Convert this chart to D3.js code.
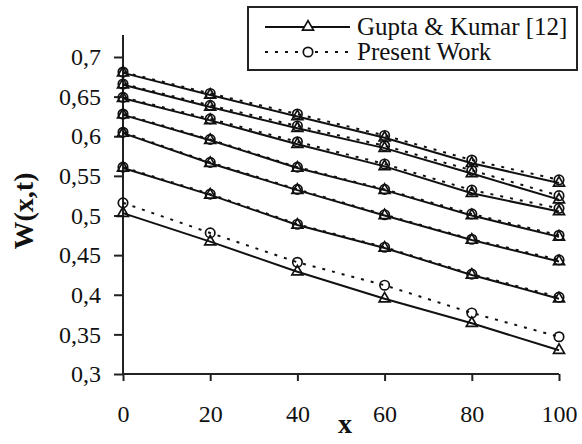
<!DOCTYPE html>
<html>
<meta charset="utf-8">
<style>
  body { margin: 0; background: #fff; }
  text { font-family: "Liberation Serif", "DejaVu Serif", serif; fill: #111; }
</style>
<script src="https://d3js.org/d3.v7.min.js"></script>
<body>
<div id="chart"></div>
<script>

// x positions along the bar
var xValues = [0, 20, 40, 60, 80, 100];

// Gupta & Kumar [12] (solid, triangles), one row per curve
var gupta = [
  [0.680, 0.652, 0.625, 0.598, 0.566, 0.541],
  [0.665, 0.637, 0.610, 0.585, 0.553, 0.520],
  [0.648, 0.620, 0.590, 0.562, 0.528, 0.505],
  [0.627, 0.595, 0.560, 0.532, 0.500, 0.473],
  [0.604, 0.566, 0.532, 0.500, 0.469, 0.442],
  [0.560, 0.526, 0.488, 0.459, 0.425, 0.395],
  [0.503, 0.467, 0.429, 0.395, 0.364, 0.330]
];

// Present Work (dotted, circles)
var present = [
  [0.681, 0.654, 0.628, 0.601, 0.570, 0.545],
  [0.666, 0.639, 0.613, 0.588, 0.557, 0.525],
  [0.649, 0.622, 0.593, 0.565, 0.532, 0.509],
  [0.628, 0.596, 0.561, 0.533, 0.502, 0.475],
  [0.605, 0.567, 0.533, 0.501, 0.470, 0.444],
  [0.561, 0.527, 0.489, 0.460, 0.426, 0.397],
  [0.516, 0.478, 0.441, 0.412, 0.377, 0.347]
];

var xTicks = [0, 20, 40, 60, 80, 100];
var yTicks = [0.3, 0.35, 0.4, 0.45, 0.5, 0.55, 0.6, 0.65, 0.7];
var legendLabels = ["Gupta & Kumar [12]", "Present Work"];

var W = 582, H = 444;

var svg = d3.select("#chart").append("svg")
    .attr("width", W)
    .attr("height", H);

var x = d3.scaleLinear().domain([0, 100]).range([123, 559]);
var y = d3.scaleLinear().domain([0.3, 0.7]).range([374, 57]);

var fmt = function(d) { return String(+d.toFixed(2)).replace(".", ","); };

// axes
var xAxis = svg.append("g")
    .attr("transform", "translate(0," + y(0.3) + ")")
    .call(d3.axisBottom(x).tickValues(xTicks).tickSize(7).tickSizeOuter(0).tickPadding(24).tickFormat(function(d) { return d; }));

var yAxis = svg.append("g")
    .attr("transform", "translate(" + x(0) + ",0)")
    .call(d3.axisLeft(y).tickValues(yTicks).tickSize(9).tickSizeOuter(0).tickPadding(13).tickFormat(fmt));

// y axis line runs a bit above the top tick
yAxis.select(".domain").attr("d", "M0," + y(0.3) + "V35");
xAxis.select(".domain").attr("d", "M" + x(0) + ",0H" + x(100));

svg.selectAll(".domain, .tick line")
    .attr("stroke", "#222")
    .attr("stroke-width", 2);
svg.selectAll(".tick text")
    .style("font-size", "24px")
    .attr("fill", "#111");

// axis titles
svg.append("text")
    .attr("transform", "translate(33," + 211 + ") rotate(-90)")
    .attr("text-anchor", "middle")
    .style("font-size", "28px")
    .style("font-weight", "bold")
    .text("W(x,t)");

svg.append("text")
    .attr("x", 345)
    .attr("y", 433)
    .attr("text-anchor", "middle")
    .style("font-size", "28px")
    .style("font-weight", "bold")
    .text("x");

var line = d3.line()
    .x(function(d, i) { return x(xValues[i]); })
    .y(function(d) { return y(d); });

var tri = d3.symbol().type(d3.symbolTriangle).size(52);
var circ = d3.symbol().type(d3.symbolCircle).size(70);

// present work: dotted lines + circles
present.forEach(function(s) {
  svg.append("path")
    .attr("d", line(s))
    .attr("fill", "none")
    .attr("stroke", "#111")
    .attr("stroke-width", 2)
    .attr("stroke-dasharray", "3,7");
  svg.selectAll(null).data(s).enter().append("path")
    .attr("d", circ)
    .attr("transform", function(d, i) { return "translate(" + x(xValues[i]) + "," + y(d) + ")"; })
    .attr("fill", "none")
    .attr("stroke", "#111")
    .attr("stroke-width", 1.7);
});

// gupta & kumar: solid lines + triangles
gupta.forEach(function(s) {
  svg.append("path")
    .attr("d", line(s))
    .attr("fill", "none")
    .attr("stroke", "#111")
    .attr("stroke-width", 2);
  svg.selectAll(null).data(s).enter().append("path")
    .attr("d", tri)
    .attr("transform", function(d, i) { return "translate(" + x(xValues[i]) + "," + y(d) + ")"; })
    .attr("fill", "none")
    .attr("stroke", "#111")
    .attr("stroke-width", 1.7);
});

// legend
var lg = svg.append("g");
lg.append("rect")
    .attr("x", 248).attr("y", 7)
    .attr("width", 329).attr("height", 63)
    .attr("fill", "#fff")
    .attr("stroke", "#222")
    .attr("stroke-width", 2);

legendLabels.forEach(function(lab, i) {
  var ly = 27 + i * 25;
  lg.append("line")
    .attr("x1", 265).attr("x2", 350)
    .attr("y1", ly).attr("y2", ly)
    .attr("stroke", "#111")
    .attr("stroke-width", 2)
    .attr("stroke-dasharray", i == 0 ? null : "3,7");
  lg.append("path")
    .attr("d", i == 0 ? tri() : circ())
    .attr("transform", "translate(308," + ly + ")")
    .attr("fill", "#fff")
    .attr("stroke", "#111")
    .attr("stroke-width", 1.7);
  lg.append("text")
    .attr("x", 357)
    .attr("y", ly + 8)
    .style("font-size", "25px")
    .text(lab);
});

</script>
</body>
</html>
